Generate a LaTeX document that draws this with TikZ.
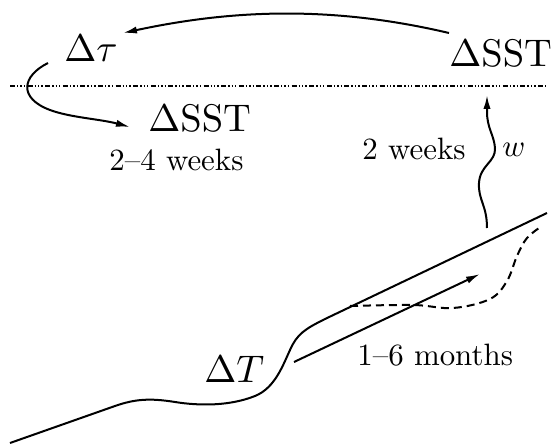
\documentclass[tikz,border=0pt]{standalone}
\usetikzlibrary{arrows.meta}
\newcommand{\mlbl}[1]{\scalebox{1.925}{#1}}
\newcommand{\tlbl}[1]{\scalebox{1.545}{#1}}
\begin{document}
\begin{tikzpicture}[x=0.5pt,y=-0.5pt,
  line/.style={line width=1pt},
  arr/.style={line width=1pt,-{Latex[length=7pt,width=3.6pt]}},
  lbl/.style={inner sep=0pt,anchor=base west},
  surface/.style={line width=0.7pt,dash pattern=on 2.5pt off 1pt on 0.7pt off 1pt on 0.7pt off 1pt on 0.7pt off 1.2pt},
  anomaly/.style={line width=1pt,dash pattern=on 4pt off 2.5pt}]
\path[use as bounding box] (0,0) rectangle (552,444);

% labels
\node[lbl] (tau) at (64,62) {\mlbl{$\Delta\tau$}};
\node[lbl] (sstTop) at (449,67) {\mlbl{$\Delta\mathrm{SST}$}};
\node[lbl] (sstLow) at (148,132) {\mlbl{$\Delta\mathrm{SST}$}};
\node[lbl] (wk24) at (109,170) {\tlbl{2–4 weeks}};
\node[lbl] (wk2) at (362,160) {\tlbl{2 weeks}};
\node[lbl] (wlbl) at (502,157) {\tlbl{$w$}};
\node[lbl] (dT) at (204,382) {\mlbl{$\Delta T$}};
\node[lbl] (mon) at (357,365) {\tlbl{1–6 months}};

% sea surface
\coordinate (sfcL) at (10,86);
\coordinate (sfcR) at (546,86);
\draw[surface] (sfcL) -- (sfcR);

% SST feeds back on the wind stress
\coordinate (fbS) at (449,33);
\coordinate (fbE) at (123,33);
\draw[arr] (fbS) .. controls (330,5) and (230,10) .. (fbE);

% wind stress forces SST
\coordinate (wsS) at (48,63);
\coordinate (wsE) at (130,127);
\draw[arr] (wsS) .. controls (22,76) and (18,98) .. (50,110)
  .. controls (70,117.5) and (100,119) .. (wsE);

% upwelling
\coordinate (upS) at (487,228);
\coordinate (upE) at (487,95);
\draw[arr] (upS) .. controls (487,205) and (478,200) .. (479,183)
  .. controls (480,165) and (496,162) .. (495,148)
  .. controls (494,135) and (487,128) .. (487,112) -- (upE);

% thermocline
\coordinate (thW) at (10,443);
\coordinate (thE) at (547,213);
\draw[line] (thW) -- (115,406)
  .. controls (135,399) and (150,398) .. (175,402)
  .. controls (200,406) and (230,406) .. (255,396)
  .. controls (275,388) and (283,365) .. (290,350)
  .. controls (297,334) and (305,329) .. (325,319) -- (thE);

% perturbed thermocline
\draw[anomaly] plot[smooth,tension=0.6] coordinates {(350,306) (413,305) (453,308)
  (490,299) (507,281) (517,256) (527,238) (542,226)};

% Kelvin wave propagation
\coordinate (kwS) at (294,362);
\coordinate (kwE) at (480,274);
\draw[arr] (kwS) -- (kwE);
\end{tikzpicture}
\end{document}
